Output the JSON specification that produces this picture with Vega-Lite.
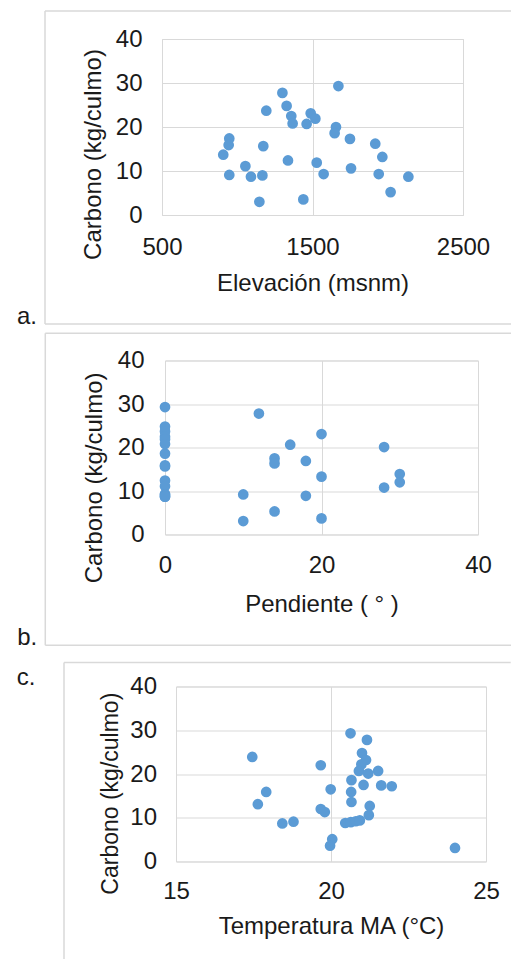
{
  "$schema": "https://vega.github.io/schema/vega-lite/v6.json",
  "padding": {"left": 15, "top": 9, "right": 0, "bottom": 0},
  "autosize": {"type": "pad"},
  "background": "white",
  "config": {
    "font": "Liberation Sans",
    "view": {"stroke": "#d9d9d9", "strokeWidth": 1},
    "axis": {
      "grid": true, "gridColor": "#d9d9d9", "gridWidth": 1,
      "domain": false, "ticks": false, "tickSize": 0,
      "labelFont": "Liberation Sans", "labelFontSize": 24, "labelColor": "#1a1a1a",
      "labelFlush": false, "labelOverlap": false, "format": "d",
      "titleFont": "Liberation Sans", "titleFontSize": 24, "titleFontWeight": "normal", "titleColor": "#1a1a1a"
    }
  },
  "datasets": {
    "elev": [
      {"elevacion": 907, "carbono": 13.7}, {"elevacion": 947, "carbono": 17.4}, {"elevacion": 943, "carbono": 15.9},
      {"elevacion": 947, "carbono": 9.1}, {"elevacion": 1054, "carbono": 11.1}, {"elevacion": 1091, "carbono": 8.7},
      {"elevacion": 1167, "carbono": 9.0}, {"elevacion": 1173, "carbono": 15.65}, {"elevacion": 1193, "carbono": 23.7},
      {"elevacion": 1147, "carbono": 3.0}, {"elevacion": 1300, "carbono": 27.75}, {"elevacion": 1328, "carbono": 24.8},
      {"elevacion": 1359, "carbono": 22.5}, {"elevacion": 1368, "carbono": 20.8}, {"elevacion": 1337, "carbono": 12.4},
      {"elevacion": 1439, "carbono": 3.55}, {"elevacion": 1461, "carbono": 20.7}, {"elevacion": 1488, "carbono": 23.1},
      {"elevacion": 1519, "carbono": 21.9}, {"elevacion": 1528, "carbono": 11.9}, {"elevacion": 1574, "carbono": 9.3},
      {"elevacion": 1656, "carbono": 20.0}, {"elevacion": 1647, "carbono": 18.6}, {"elevacion": 1672, "carbono": 29.3},
      {"elevacion": 1749, "carbono": 17.3}, {"elevacion": 1756, "carbono": 10.6}, {"elevacion": 1917, "carbono": 16.2},
      {"elevacion": 1964, "carbono": 13.2}, {"elevacion": 1940, "carbono": 9.3}, {"elevacion": 2019, "carbono": 5.2},
      {"elevacion": 2137, "carbono": 8.7}
    ],
    "pend": [
      {"pendiente": 0, "carbono": 29.3}, {"pendiente": 0, "carbono": 24.8}, {"pendiente": 0, "carbono": 23.7},
      {"pendiente": 0, "carbono": 22.5}, {"pendiente": 0, "carbono": 21.9}, {"pendiente": 0, "carbono": 20.8},
      {"pendiente": 0, "carbono": 18.6}, {"pendiente": 0, "carbono": 15.9}, {"pendiente": 0, "carbono": 15.65},
      {"pendiente": 0, "carbono": 12.4}, {"pendiente": 0, "carbono": 11.1}, {"pendiente": 0, "carbono": 9.3},
      {"pendiente": 0, "carbono": 9.1}, {"pendiente": 0, "carbono": 8.7}, {"pendiente": 0, "carbono": 8.7},
      {"pendiente": 12, "carbono": 27.8}, {"pendiente": 20, "carbono": 23.1}, {"pendiente": 16, "carbono": 20.65},
      {"pendiente": 28, "carbono": 20.1}, {"pendiente": 14, "carbono": 17.5}, {"pendiente": 14, "carbono": 16.35},
      {"pendiente": 18, "carbono": 16.9}, {"pendiente": 20, "carbono": 13.3}, {"pendiente": 30, "carbono": 13.9},
      {"pendiente": 30, "carbono": 12.0}, {"pendiente": 28, "carbono": 10.8}, {"pendiente": 10, "carbono": 9.2},
      {"pendiente": 18, "carbono": 8.9}, {"pendiente": 14, "carbono": 5.3}, {"pendiente": 10, "carbono": 3.1},
      {"pendiente": 20, "carbono": 3.7}
    ],
    "temp": [
      {"temperatura": 17.46, "carbono": 23.9}, {"temperatura": 17.64, "carbono": 13.1}, {"temperatura": 17.91, "carbono": 15.9},
      {"temperatura": 18.43, "carbono": 8.7}, {"temperatura": 18.79, "carbono": 9.1}, {"temperatura": 19.67, "carbono": 22.0},
      {"temperatura": 19.67, "carbono": 12.0}, {"temperatura": 19.8, "carbono": 11.3}, {"temperatura": 19.99, "carbono": 16.5},
      {"temperatura": 20.04, "carbono": 5.1}, {"temperatura": 19.97, "carbono": 3.6}, {"temperatura": 20.63, "carbono": 29.3},
      {"temperatura": 21.16, "carbono": 27.8}, {"temperatura": 21.0, "carbono": 24.8}, {"temperatura": 21.13, "carbono": 23.2},
      {"temperatura": 20.98, "carbono": 22.2}, {"temperatura": 20.9, "carbono": 20.7}, {"temperatura": 21.2, "carbono": 20.1},
      {"temperatura": 21.52, "carbono": 20.7}, {"temperatura": 20.66, "carbono": 18.6}, {"temperatura": 21.05, "carbono": 17.5},
      {"temperatura": 21.62, "carbono": 17.4}, {"temperatura": 21.96, "carbono": 17.2}, {"temperatura": 20.65, "carbono": 15.9},
      {"temperatura": 20.66, "carbono": 13.6}, {"temperatura": 21.25, "carbono": 12.7}, {"temperatura": 21.22, "carbono": 10.6},
      {"temperatura": 20.46, "carbono": 8.8}, {"temperatura": 20.64, "carbono": 9.0}, {"temperatura": 20.8, "carbono": 9.2},
      {"temperatura": 20.93, "carbono": 9.4}, {"temperatura": 24.0, "carbono": 3.1}
    ]
  },
  "spacing": 1.5,
  "vconcat": [
    {
      "spacing": 0,
      "hconcat": [
        {"width": 1, "height": 1, "view": {"stroke": null}, "data": {"values": [{}]}, "mark": {"type": "text", "text": ""}, "encoding": {}},
        {
          "width": 301, "height": 176,
          "layer": [
            {
              "data": {"name": "elev"},
              "mark": {"type": "circle", "size": 115, "color": "#5B9BD5", "opacity": 1},
              "encoding": {
                "x": {"field": "elevacion", "type": "quantitative",
                      "scale": {"domain": [500, 2500], "nice": false, "zero": false},
                      "axis": {"values": [500, 1500, 2500], "title": "Elevación (msnm)", "labelPadding": 20, "titlePadding": 12}},
                "y": {"field": "carbono", "type": "quantitative",
                      "scale": {"domain": [0, 40], "nice": false, "zero": false},
                      "axis": {"values": [0, 10, 20, 30, 40], "title": "Carbono (kg/culmo)", "labelPadding": 20, "titleX": -57, "titleY": 115}}
              }
            },
            {"data": {"values": [{}]}, "mark": {"type": "rule", "color": "#d9d9d9", "strokeWidth": 1.5},
             "encoding": {"x": {"datum": -277.4}, "x2": {"datum": 2819}, "y": {"datum": 46.36}}},
            {"data": {"values": [{}]}, "mark": {"type": "rule", "color": "#d9d9d9", "strokeWidth": 1.5},
             "encoding": {"x": {"datum": -277.4}, "x2": {"datum": 2819}, "y": {"datum": -24.77}}},
            {"data": {"values": [{}]}, "mark": {"type": "rule", "color": "#d9d9d9", "strokeWidth": 1.5},
             "encoding": {"x": {"datum": -277.4}, "y": {"datum": 46.36}, "y2": {"datum": -24.77}}},
            {"data": {"values": [{}]}, "mark": {"type": "text", "text": "a.", "align": "left", "baseline": "alphabetic", "fontSize": 24, "font": "Liberation Sans", "color": "#1a1a1a"},
             "encoding": {"x": {"datum": -463.5}, "y": {"datum": -24.77}}}
          ]
        }
      ]
    },
    {
      "spacing": 9,
      "vconcat": [
        {
          "spacing": 0,
          "hconcat": [
            {"width": 1, "height": 1, "view": {"stroke": null}, "data": {"values": [{}]}, "mark": {"type": "text", "text": ""}, "encoding": {}},
            {
              "width": 313, "height": 174,
              "layer": [
                {
                  "data": {"name": "pend"},
                  "mark": {"type": "circle", "size": 115, "color": "#5B9BD5", "opacity": 1},
                  "encoding": {
                    "x": {"field": "pendiente", "type": "quantitative",
                          "scale": {"domain": [0, 40], "nice": false, "zero": false},
                          "axis": {"values": [0, 20, 40], "title": "Pendiente ( ° )", "labelPadding": 19, "titlePadding": 14.5}},
                    "y": {"field": "carbono", "type": "quantitative",
                          "scale": {"domain": [0, 40], "nice": false, "zero": false},
                          "axis": {"values": [0, 10, 20, 30, 40], "title": "Carbono (kg/culmo)", "labelPadding": 21, "titleX": -58.2, "titleY": 116.9}}
                  }
                },
                {"data": {"values": [{}]}, "mark": {"type": "rule", "color": "#d9d9d9", "strokeWidth": 1.5},
                 "encoding": {"x": {"datum": -15.3}, "x2": {"datum": 44.26}, "y": {"datum": 46.28}}},
                {"data": {"values": [{}]}, "mark": {"type": "rule", "color": "#d9d9d9", "strokeWidth": 1.5},
                 "encoding": {"x": {"datum": -15.3}, "x2": {"datum": 44.26}, "y": {"datum": -25.45}}},
                {"data": {"values": [{}]}, "mark": {"type": "rule", "color": "#d9d9d9", "strokeWidth": 1.5},
                 "encoding": {"x": {"datum": -15.3}, "y": {"datum": 46.28}, "y2": {"datum": -25.45}}},
                {"data": {"values": [{}]}, "mark": {"type": "text", "text": "b.", "align": "left", "baseline": "alphabetic", "fontSize": 24, "font": "Liberation Sans", "color": "#1a1a1a"},
                 "encoding": {"x": {"datum": -18.88}, "y": {"datum": -25.45}}}
              ]
            }
          ]
        },
        {
          "spacing": 0,
          "hconcat": [
            {"width": 1, "height": 1, "view": {"stroke": null}, "data": {"values": [{}]}, "mark": {"type": "text", "text": ""}, "encoding": {}},
            {
              "width": 310, "height": 175,
              "layer": [
                {
                  "data": {"name": "temp"},
                  "mark": {"type": "circle", "size": 115, "color": "#5B9BD5", "opacity": 1},
                  "encoding": {
                    "x": {"field": "temperatura", "type": "quantitative",
                          "scale": {"domain": [15, 25], "nice": false, "zero": false},
                          "axis": {"values": [15, 20, 25], "title": "Temperatura MA (°C)", "labelPadding": 17.5, "titlePadding": 11}},
                    "y": {"field": "carbono", "type": "quantitative",
                          "scale": {"domain": [0, 40], "nice": false, "zero": false},
                          "axis": {"values": [0, 10, 20, 30, 40], "title": "Carbono (kg/culmo)", "titleFontSize": 23, "labelPadding": 19.5, "titleX": -54, "titleY": 106.7}}
                  }
                },
                {"data": {"values": [{}]}, "mark": {"type": "rule", "color": "#d9d9d9", "strokeWidth": 1.5},
                 "encoding": {"x": {"datum": 11.387}, "x2": {"datum": 25.797}, "y": {"datum": 45.49}}},
                {"data": {"values": [{}]}, "mark": {"type": "rule", "color": "#d9d9d9", "strokeWidth": 1.5},
                 "encoding": {"x": {"datum": 11.387}, "y": {"datum": 45.49}, "y2": {"datum": -22.47}}},
                {"data": {"values": [{}]}, "mark": {"type": "text", "text": "c.", "align": "left", "baseline": "alphabetic", "fontSize": 24, "font": "Liberation Sans", "color": "#1a1a1a"},
                 "encoding": {"x": {"datum": 9.861}, "y": {"datum": 40.39}}}
              ]
            }
          ]
        }
      ]
    }
  ]
}
